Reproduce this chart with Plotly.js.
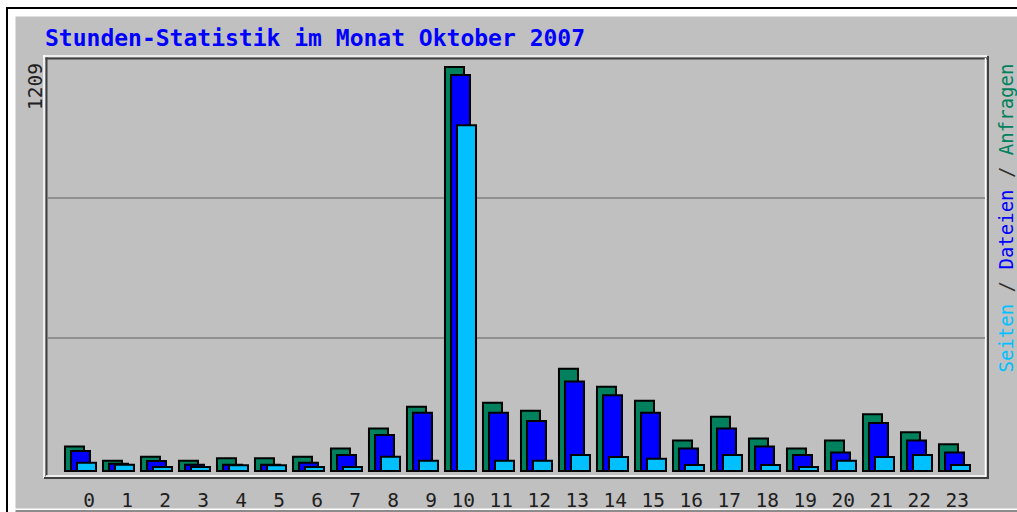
<!DOCTYPE html>
<html>
<head>
<meta charset="utf-8">
<script src="https://cdn.plot.ly/plotly-3.0.1.min.js"></script>
<style>html,body{margin:0;padding:0;background:#fff;}#chart{width:1017px;height:512px;}</style>
</head>
<body>
<div id="chart"></div>
<script>
// ---- data ----
var hours = [0,1,2,3,4,5,6,7,8,9,10,11,12,13,14,15,16,17,18,19,20,21,22,23];
var hourLabels = ["\u00a00","\u00a01","\u00a02","\u00a03","\u00a04","\u00a05","\u00a06","\u00a07","\u00a08","\u00a09","10","11","12","13","14","15","16","17","18","19","20","21","22","23"];
var anfragen = [73,31,43,31,38,38,43,67,127,192,1209,204,180,306,252,210,91,162,97,67,91,170,116,80];
var dateien  = [60,22,30,19,19,19,25,48,108,174,1185,174,150,268,227,174,67,127,73,48,55,144,91,55];
var seiten   = [25,19,12,12,17,17,12,12,43,31,1035,31,31,48,42,37,18,48,18,12,31,42,48,18];
var maxLabel = "1209";
var titleText = "Stunden-Statistik im Monat Oktober 2007";

// ---- geometry ----
var W = 1017, H = 512, L = 46, R = 29, T = 58, B = 35;
var PW = W - L - R, PH = H - T - B;
function fx(px){ return (px - L) / PW; }
function fy(py){ return 1 - (py - T) / PH; }

var FONT = "DejaVu Sans Mono";
var cGreen = "#00805C", cBlue = "#0000FF", cCyan = "#00C0FF";

function barTrace(y, color, off){
  return {type:"bar", x: hours, y: y, width: 0.5, offset: off,
    marker:{color: color, line:{color:"#000000", width:2}}, hoverinfo:"skip"};
}
var traces = [
  barTrace(anfragen, cGreen, -0.482),
  barTrace(dateien, cBlue, -0.324),
  barTrace(seiten, cCyan, -0.166)
];

function hline(py, x0, x1, color, w){
  return {type:"line", xref:"paper", yref:"paper", x0:fx(x0), x1:fx(x1), y0:fy(py), y1:fy(py),
    line:{color:color, width:w}, layer:"below"};
}
function vline(px, y0, y1, color, w){
  return {type:"line", xref:"paper", yref:"paper", x0:fx(px), x1:fx(px), y0:fy(y0), y1:fy(y1),
    line:{color:color, width:w}, layer:"below"};
}
var shapes = [
  {type:"rect", xref:"paper", yref:"paper", x0:fx(15.5), x1:fx(1030), y0:fy(16.5), y1:fy(508.5),
    fillcolor:"#C0C0C0", line:{width:0}, layer:"below"},
  {type:"rect", xref:"paper", yref:"paper", x0:fx(15.5), x1:fx(1030), y0:fy(510), y1:fy(520),
    fillcolor:"#8c8c8c", line:{width:0}, layer:"below"},
  vline(7, 7.5, 520, "#000000", 2),
  hline(8, 6, 1030, "#000000", 2),
  // plot frame (bevel)
  hline(56, 43, 987, "#FFFFFF", 1.5),
  vline(44, 55, 478, "#FFFFFF", 1.5),
  hline(58.5, 45.5, 987, "#404040", 2),
  vline(46.5, 57.5, 476, "#404040", 2),
  hline(476, 46, 986, "#FFFFFF", 1.5),
  vline(985.5, 58, 476.5, "#FFFFFF", 1.5),
  hline(478, 44, 989, "#404040", 2),
  vline(988, 56, 479, "#404040", 2),
  // grid lines
  hline(198, 47.5, 985, "#808080", 1.5),
  hline(338, 47.5, 985, "#808080", 1.5)
];

var legendText = '<span style="color:' + cCyan + '">Seiten</span>' +
  '<span style="color:#303030"> / </span>' +
  '<span style="color:' + cBlue + '">Dateien</span>' +
  '<span style="color:#303030"> / </span>' +
  '<span style="color:' + cGreen + '">Anfragen</span>';

var annotations = [
  {xref:"paper", yref:"paper", x:fx(43), y:fy(38), xanchor:"left", yanchor:"middle", showarrow:false,
    text:"<b>" + titleText + "</b>", font:{family:FONT, size:23, color:"#0000FF"}},
  {xref:"paper", yref:"paper", x:fx(35.5), y:fy(86.5), xanchor:"center", yanchor:"middle", showarrow:false,
    textangle:-90, text:maxLabel, font:{family:FONT, size:19.5, color:"#202020"}},
  {xref:"paper", yref:"paper", x:fx(1005), y:fy(218.5), xanchor:"center", yanchor:"middle", showarrow:false,
    textangle:-90, text:legendText, font:{family:FONT, size:19, color:"#303030"}}
];

var layout = {
  width: W, height: H,
  margin:{l:L, r:R, t:T, b:B, pad:0},
  paper_bgcolor:"#FFFFFF", plot_bgcolor:"#C0C0C0",
  barmode:"overlay", showlegend:false,
  xaxis:{range:[(L - 83.3)/38, (W - R - 83.3)/38], tickvals: hours, ticktext: hourLabels,
    showgrid:false, zeroline:false, showline:false, ticks:"", fixedrange:true,
    tickfont:{family:FONT, size:19.5, color:"#202020"}, ticklabelstandoff: 9},
  yaxis:{range:[-6/0.33416, (471 - 58)/0.33416], showgrid:false, zeroline:false, showline:false,
    showticklabels:false, ticks:"", fixedrange:true},
  shapes: shapes,
  annotations: annotations
};

Plotly.newPlot("chart", traces, layout, {displayModeBar:false, staticPlot:true});
</script>
</body>
</html>
